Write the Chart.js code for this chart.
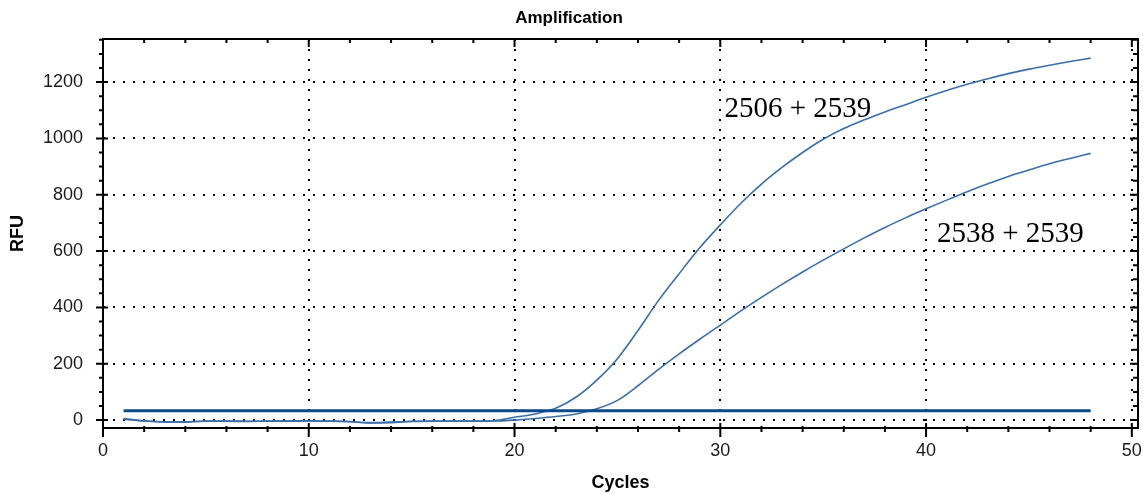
<!DOCTYPE html>
<html>
<head>
<meta charset="utf-8">
<script src="https://cdn.jsdelivr.net/npm/chart.js@4/dist/chart.umd.min.js"></script>
<style>
  html, body { margin: 0; padding: 0; background: #fff; }
  #wrap { width: 1143px; height: 494px; }
</style>
</head>
<body>
<div id="wrap"><canvas id="chart"></canvas></div>
<script>
// amplification data
const cycles = [1, 2, 3, 4, 5, 6, 7, 8, 9, 10, 11, 12, 13, 14, 15, 16, 17, 18, 19, 20, 21, 22, 23, 24,
    25, 26, 27, 28, 29, 30, 31, 32, 33, 34, 35, 36, 37, 38, 39, 40, 41, 42, 43, 44, 45, 46, 47, 48];
const rfu2506 = [6, -2, -6, -7, -3, -3, -4, -4, -3, -2, -3, -5, -10, -9, -4, -3, -3, -4, -2, 10, 22, 42, 82, 142,
    218, 318, 425, 520, 612, 693, 770, 838, 897, 950, 997, 1035, 1066, 1094, 1120, 1146, 1170, 1192, 1212, 1230, 1246, 1260, 1273, 1285];
const rfu2538 = [3, -3, -7, -6, -4, -4, -5, -3, -4, -3, -4, -6, -9, -7, -5, -4, -4, -3, -3, 0, 6, 13, 22, 40,
    70, 122, 180, 235, 287, 337, 388, 436, 482, 526, 568, 608, 647, 684, 718, 750, 781, 811, 839, 865, 888, 910, 929, 947];
const thresholdCycles = [1, 48];
const thresholdRfu = [33, 33];

const xTicks = [0, 2, 4, 6, 8, 10, 12, 14, 16, 18, 20, 22, 24, 26, 28, 30, 32, 34, 36, 38, 40, 42, 44, 46, 48, 50];
const yTicks = [0, 50, 100, 150, 200, 250, 300, 350, 400, 450, 500, 550, 600, 650, 700, 750, 800, 850, 900,
    950, 1000, 1050, 1100, 1150, 1200, 1250, 1300, 1350];

const curveNames = ['2506 + 2539', '2538 + 2539'];
const nameCycle = [30.2, 40.53];
const nameRfu = [1077, 632];

const toPoints = (xs, ys) => xs.map((v, i) => ({ x: v, y: ys[i] }));

const frame = {
    id: 'frame',
    afterDraw(chart) {
        const { ctx, chartArea: a, scales: { x, y } } = chart;
        ctx.save();
        ctx.strokeStyle = '#000';
        ctx.lineWidth = 2;
        ctx.strokeRect(a.left, a.top, a.right - a.left, a.bottom - a.top);
        ctx.beginPath();
        xTicks.forEach(v => {
            const px = x.getPixelForValue(v);
            const major = v % 10 === 0;
            ctx.moveTo(px, a.bottom - (major ? 5 : 2));
            ctx.lineTo(px, a.bottom + (major ? 9 : 4));
            ctx.moveTo(px, a.top);
            ctx.lineTo(px, a.top + (major ? 8 : 4));
        });
        yTicks.forEach(v => {
            const py = y.getPixelForValue(v);
            const major = v % 200 === 0;
            ctx.moveTo(a.left - (major ? 7 : 4), py);
            ctx.lineTo(a.left + (major ? 5 : 0), py);
            ctx.moveTo(a.right, py);
            ctx.lineTo(a.right - (major ? 8 : 5), py);
        });
        ctx.stroke();

        ctx.fillStyle = '#000';
        ctx.font = '29px "Liberation Serif", "Times New Roman", serif';
        ctx.textAlign = 'left';
        ctx.textBaseline = 'alphabetic';
        curveNames.forEach((t, i) => {
            ctx.fillText(t, x.getPixelForValue(nameCycle[i]), y.getPixelForValue(nameRfu[i]));
        });
        ctx.restore();
    }
};

Chart.defaults.font.family = '"Liberation Sans", Arial, sans-serif';

new Chart(document.getElementById('chart'), {
    type: 'line',
    data: {
        datasets: [
            {
                data: toPoints(thresholdCycles, thresholdRfu),
                borderColor: '#0b4a8a',
                borderWidth: 3,
                pointRadius: 0
            },
            {
                data: toPoints(cycles, rfu2506),
                borderColor: '#3a6ea8',
                borderWidth: 1.6,
                pointRadius: 0,
                cubicInterpolationMode: 'monotone'
            },
            {
                data: toPoints(cycles, rfu2538),
                borderColor: '#3a6ea8',
                borderWidth: 1.6,
                pointRadius: 0,
                cubicInterpolationMode: 'monotone'
            }
        ]
    },
    options: {
        responsive: true,
        maintainAspectRatio: false,
        animation: false,
        layout: { padding: { top: 0, right: 5, left: 0, bottom: 0 } },
        plugins: {
            legend: { display: false },
            tooltip: { enabled: false },
            title: {
                display: true,
                text: 'Amplification',
                color: '#000',
                font: { size: 17, weight: 'bold' },
                padding: { top: 8, bottom: 10.6 }
            }
        },
        scales: {
            x: {
                type: 'linear',
                min: 0,
                max: 50.3,
                afterBuildTicks: scale => { scale.ticks = xTicks.map(v => ({ value: v })); },
                afterFit: scale => {
                    scale.height = 66;
                    scale.paddingLeft = 0;
                    scale.paddingRight = 0;
                },
                grid: {
                    drawTicks: false,
                    lineWidth: 2,
                    color: c => (c.tick && c.tick.value % 10 === 0) ? '#000' : 'rgba(0,0,0,0)'
                },
                border: { display: false, dash: [2, 8] },
                ticks: {
                    autoSkip: false,
                    maxRotation: 0,
                    padding: 12,
                    color: '#1a1a1a',
                    font: { size: 18 },
                    callback: v => v % 10 === 0 ? v : ''
                },
                title: {
                    display: true,
                    text: 'Cycles',
                    color: '#000',
                    font: { size: 18, weight: 'bold' },
                    padding: { top: 0, bottom: 0 }
                }
            },
            y: {
                min: -28,
                max: 1353,
                afterBuildTicks: scale => { scale.ticks = yTicks.map(v => ({ value: v })); },
                afterFit: scale => {
                    scale.width = 103;
                    scale.paddingTop = 0;
                    scale.paddingBottom = 0;
                },
                grid: {
                    drawTicks: false,
                    lineWidth: 2,
                    color: c => (c.tick && c.tick.value % 200 === 0) ? '#000' : 'rgba(0,0,0,0)'
                },
                border: { display: false, dash: [2, 8] },
                ticks: {
                    autoSkip: false,
                    padding: 20,
                    color: '#1a1a1a',
                    font: { size: 18 },
                    callback: v => v % 200 === 0 ? v : ''
                },
                title: {
                    display: true,
                    text: 'RFU',
                    color: '#000',
                    font: { size: 18, weight: 'bold' },
                    padding: { top: 7, bottom: 0 }
                }
            }
        }
    },
    plugins: [frame]
});
</script>
</body>
</html>
